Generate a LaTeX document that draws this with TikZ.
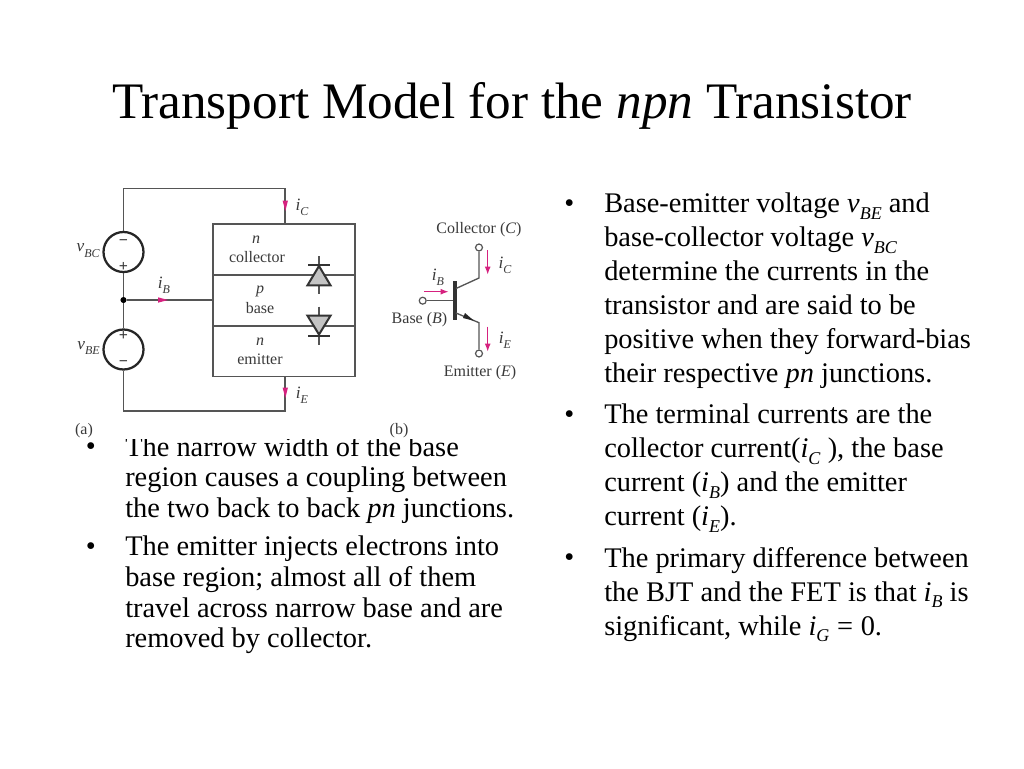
\documentclass[tikz,border=0pt]{standalone}
\usepackage{fontspec}
\setmainfont{Liberation Serif}
\usetikzlibrary{arrows.meta}
\definecolor{wire}{HTML}{555555}
\definecolor{lab}{HTML}{3A3A3A}
\definecolor{pinkc}{HTML}{D6217F}
\definecolor{dio}{HTML}{C4C4C4}
\newcommand{\ssb}[1]{\raisebox{-0.22em}{\fontsize{13.5}{13.5}\selectfont\textit{#1}}}
\newcommand{\lsb}[1]{\raisebox{-0.3em}{\fontsize{9}{9}\selectfont\textit{#1}}}
\tikzset{
  x=0.75pt,y=-0.75pt,
  wireline/.style={draw=wire,line width=1.4pt},
  region/.style={draw=wire,line width=1.2pt,minimum width=106.5pt,inner sep=0pt},
  source/.style={circle,draw=black!85,line width=1.7pt,minimum size=30pt,inner sep=0pt,fill=white},
  dot/.style={circle,fill=black,inner sep=0pt,minimum size=4.6pt},
  term/.style={circle,draw=wire,line width=0.9pt,fill=white,inner sep=0pt,minimum size=5.2pt},
  lbl/.style={text=lab,font=\fontsize{12}{14}\selectfont,inner sep=0pt},
  var/.style={text=lab,font=\fontsize{13}{15}\selectfont\itshape,inner sep=0pt},
  sgn/.style={text=lab,font=\fontsize{12}{12}\selectfont\bfseries,inner sep=0pt},
  flow/.style={draw=pinkc,line width=0.8pt,-{Latex[length=6pt,width=4.5pt]}},
  body/.style={anchor=north west,inner sep=0pt,align=left,font=\fontsize{21.3}{25.5}\selectfont},
  bodyl/.style={anchor=north west,inner sep=0pt,align=left,font=\fontsize{21.3}{22.9}\selectfont},
  bul/.style={anchor=base west,inner sep=0pt,font=\fontsize{21.3}{25.5}\selectfont},
}
\begin{document}
\begin{tikzpicture}
\useasboundingbox (0,0) rectangle (1024,768);
\fill[white] (0,0) rectangle (1024,768);
% title
\node[anchor=base,inner sep=0pt,font=\fontsize{38.4}{42}\selectfont] (title) at (512,118) {Transport Model for the \textit{npn} Transistor};
% left text
\node[bul] (bl1) at (85.5,455) {•};
\node[bodyl] (l1) at (125,436) {The narrow width of the base\\region causes a coupling between\\the two back to back \textit{pn} junctions.};
\node[bul] (bl2) at (85.5,555) {•};
\node[bodyl] (l2) at (125,536) {The emitter injects electrons into\\base region; almost all of them\\travel across narrow base and are\\removed by collector.};
% right text
\node[bul] (br1) at (564,212) {•};
\node[body] (r1) at (604,193) {Base-emitter voltage \textit{v}\ssb{BE} and\\base-collector voltage \textit{v}\ssb{BC}\\determine the currents in the\\transistor and are said to be\\positive when they forward-bias\\their respective \textit{pn} junctions.};
\node[bul] (br2) at (564,423) {•};
\node[body] (r2) at (604,404) {The terminal currents are the\\collector current(\textit{i}\ssb{C} ), the base\\current (\textit{i}\ssb{B}) and the emitter\\current (\textit{i}\ssb{E}).};
\node[bul] (br3) at (564,566) {•};
\node[body] (r3) at (604,547) {The primary difference between\\the BJT and the FET is that \textit{i}\ssb{B} is\\significant, while \textit{i}\ssb{G}\hspace{0.27em}=\hspace{0.27em}0.};
% image mask that clips the top of the left text
\fill[white] (60,170) rectangle (530,439);
% regions
\node[region,minimum height=38.2pt] (coll) at (284,249.2) {};
\node[region,minimum height=38.2pt] (basr) at (284,300.2) {};
\node[region,minimum height=38.2pt] (emit) at (284,351.2) {};
\node[lbl] at (256,240) {\textit{n}};
\node[lbl] (tcoll) at (257,257.5) {collector};
\node[lbl] at (260,291) {\textit{p}};
\node[lbl] (tbase) at (260,308) {base};
\node[lbl] at (260,342) {\textit{n}};
\node[lbl] (temit) at (260,359) {emitter};
% sources and wires
\node[source] (vbc) at (123.5,252) {};
\node[source] (vbe) at (123.5,349.5) {};
\node[dot] (J) at (123.5,300) {};
\node[sgn] at (123.5,242.5) {−};
\node[sgn] at (123.5,266.5) {+};
\node[sgn] at (123.5,336) {+};
\node[sgn] at (123.5,364) {−};
\coordinate (tr) at (285.3,188.5);
\coordinate (br) at (285.3,411);
\draw[wireline] (vbc.north) |- (tr) -- (tr |- coll.north);
\draw[wireline] (vbe.south) |- (br) -- (br |- emit.south);
\draw[wireline] (vbc.south) -- (J);
\draw[wireline] (J) -- (vbe.north);
\draw[wireline] (J) -- (J -| basr.west);
% pink tips on the wires
\fill[pinkc] (282.6,200.5) -- (288,200.5) -- (285.3,211) -- cycle;
\fill[pinkc] (158,297.3) -- (158,302.7) -- (168,300) -- cycle;
\fill[pinkc] (282.6,387.5) -- (288,387.5) -- (285.3,398) -- cycle;
\node[var] (ic) at (302,207) {i\lsb{C}};
\node[var] (ib) at (164,285.5) {i\lsb{B}};
\node[var] (ie) at (302,395.5) {i\lsb{E}};
\node[var,anchor=east] (vbcl) at (100,250.5) {v\lsb{BC}};
\node[var,anchor=east] (vbel) at (100,348) {v\lsb{BE}};
% diodes
\draw[wire,line width=1.1pt] (319,256) -- (319,294);
\draw[wire,line width=1.1pt] (319,306.7) -- (319,345);
\draw[draw=black!80,fill=dio,line width=1.5pt,line join=miter] (319,266) -- (330.5,285.3) -- (307.5,285.3) -- cycle;
\draw[draw=black!80,line width=1.5pt] (308,265) -- (330,265);
\draw[draw=black!80,fill=dio,line width=1.5pt,line join=miter] (319,334.5) -- (330.5,315.7) -- (307.5,315.7) -- cycle;
\draw[draw=black!80,line width=1.5pt] (308,335.5) -- (330,335.5);
% transistor
\node[term] (tb) at (422.7,300.7) {};
\node[term] (tc) at (479,247.5) {};
\node[term] (te) at (479,353.5) {};
\coordinate (bar1) at (455,281);
\coordinate (bar2) at (455,320);
\coordinate (bc) at (479,278);
\coordinate (be) at (479,322.7);
\draw[wireline,line width=1pt] (tb) -- (455,300.7);
\draw[black!80,line width=2.5pt] (bar1) -- (bar2);
\draw[wireline,line width=1pt] (456,288.5) -- (bc) -- (tc);
\draw[wireline,line width=1pt] (456,313) -- (be) -- (te);
\fill[black!85] (474,320.8) -- (465,313) -- (463,318) -- cycle;
\coordinate (a1) at (487.7,250);
\coordinate (a2) at (487.7,274.5);
\coordinate (a3) at (487.7,326.5);
\coordinate (a4) at (487.7,351.5);
\coordinate (a5) at (424,291.7);
\coordinate (a6) at (448.5,291.7);
\draw[flow] (a1) -- (a2);
\draw[flow] (a3) -- (a4);
\draw[flow] (a5) -- (a6);
\node[var] (ic2) at (505,265) {i\lsb{C}};
\node[var] (ie2) at (505,340) {i\lsb{E}};
\node[var] (ib2) at (438,277) {i\lsb{B}};
\node[lbl,anchor=base] (cl) at (479,233) {Collector (\textit{C})};
\node[lbl,anchor=base] (bl) at (419.5,323) {Base (\textit{B})};
\node[lbl,anchor=base] (el) at (480,376) {Emitter (\textit{E})};
\node[lbl] (a) at (84,430.5) {(a)};
\node[lbl] (b) at (399,430.5) {(b)};
\end{tikzpicture}
\end{document}
